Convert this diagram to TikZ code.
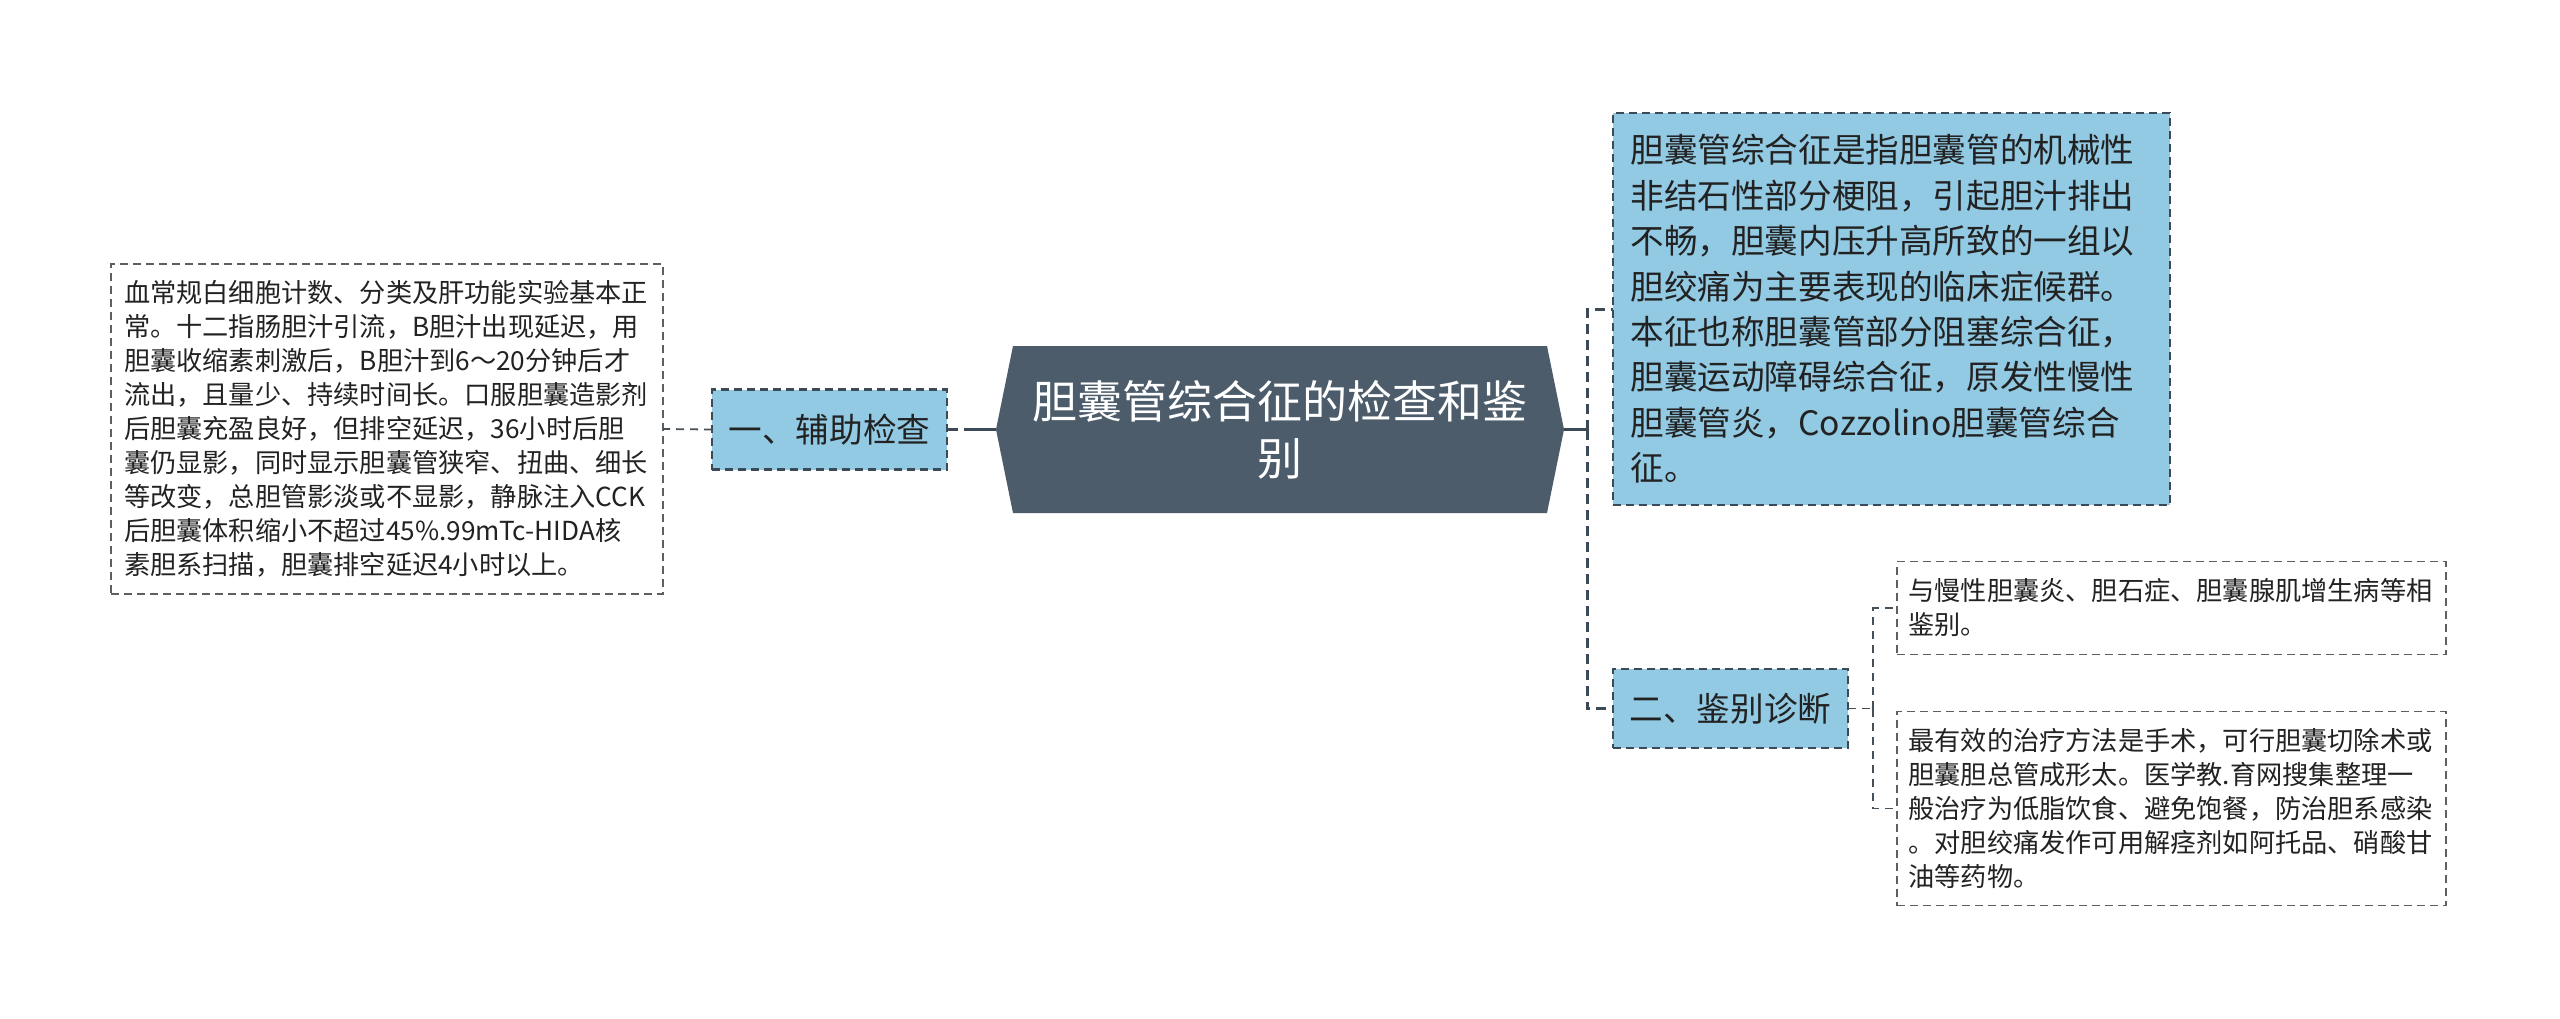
\documentclass[tikz,border=0pt]{standalone}
\usepackage{fontspec}
\newfontfamily\cjk{Noto Sans CJK SC}
\usetikzlibrary{calc}
\definecolor{bluefill}{RGB}{146,201,227}
\definecolor{slate}{RGB}{76,92,107}
\definecolor{edgec}{RGB}{60,74,88}
\definecolor{txt}{RGB}{34,34,34}
\definecolor{leafline}{RGB}{95,95,95}
\definecolor{twigc}{RGB}{70,80,90}
\begin{document}
\begin{tikzpicture}[x=0.5pt,y=-0.5pt,
  every node/.style={inner sep=0pt,outer sep=0pt},
  bluebox/.style={draw=edgec,fill=bluefill,line width=1.2pt,dash pattern=on 4pt off 2.5pt,text=txt},
  leafbox/.style={draw=leafline,line width=0.8pt,dash pattern=on 4pt off 2.5pt,text=txt},
  smalltext/.style={font=\cjk\fontsize{13.1}{17}\selectfont,align=left},
  midtext/.style={font=\cjk\fontsize{16.8}{22.7}\selectfont},
  trunk/.style={draw=edgec,line width=1.5pt,dash pattern=on 5pt off 3pt},
  twig/.style={draw=twigc,line width=0.9pt,dash pattern=on 4pt off 3pt},
  solidc/.style={draw=edgec,line width=1.6pt}]
\useasboundingbox[fill=white] (0,0) rectangle (2560,1018);

% central node
\node[minimum width=284pt,minimum height=83.5pt] (c) at (1280,429.5) {};
\fill[slate] ($(c.north west)+(17,0)$) -- ($(c.north east)+(-17,0)$) -- (c.east)
  -- ($(c.south east)+(-17,0)$) -- ($(c.south west)+(17,0)$) -- (c.west) -- cycle;
\node[text width=250pt,align=center,font=\cjk\fontsize{22.5}{28.5}\selectfont,text=white]
  at (c.center) {胆囊管综合征的检查和鉴\\别};

% left branch
\node[bluebox,midtext,minimum width=117.5pt,minimum height=40pt] (l1) at (829.5,429.5) {一、辅助检查};
\node[leafbox,smalltext,minimum width=276pt,minimum height=165pt,text width=263pt] (leaf) at (387,429) {%
血常规白细胞计数、分类及肝功能实验基本正\\
常。十二指肠胆汁引流，B胆汁出现延迟，用\\
胆囊收缩素刺激后，B胆汁到6～20分钟后才\\
流出，且量少、持续时间长。口服胆囊造影剂\\
后胆囊充盈良好，但排空延迟，36小时后胆\\
囊仍显影，同时显示胆囊管狭窄、扭曲、细长\\
等改变，总胆管影淡或不显影，静脉注入CCK\\
后胆囊体积缩小不超过45\%.99mTc-HIDA核\\
素胆系扫描，胆囊排空延迟4小时以上。};

% right branch
\node[bluebox,midtext,align=left,minimum width=278.5pt,minimum height=196pt,text width=261pt] (rt) at (1891.5,309) {%
胆囊管综合征是指胆囊管的机械性\\
非结石性部分梗阻，引起胆汁排出\\
不畅，胆囊内压升高所致的一组以\\
胆绞痛为主要表现的临床症候群。\\
本征也称胆囊管部分阻塞综合征，\\
胆囊运动障碍综合征，原发性慢性\\
胆囊管炎，Cozzolino胆囊管综合\\
征。};
\node[bluebox,midtext,minimum width=117.5pt,minimum height=39.5pt] (r2) at (1730.5,708.5) {二、鉴别诊断};
\node[leafbox,smalltext,minimum width=274.5pt,minimum height=46.5pt,text width=263pt] (leafa) at (2171.5,608) {%
与慢性胆囊炎、胆石症、胆囊腺肌增生病等相\\
鉴别。};
\node[leafbox,smalltext,minimum width=274.5pt,minimum height=97pt,text width=263pt] (leafb) at (2171.5,808.5) {%
最有效的治疗方法是手术，可行胆囊切除术或\\
胆囊胆总管成形太。医学教.育网搜集整理一\\
般治疗为低脂饮食、避免饱餐，防治胆系感染\\
。对胆绞痛发作可用解痉剂如阿托品、硝酸甘\\
油等药物。};

% connectors
\draw[solidc,dash pattern=on 16pt off 3pt on 5pt off 10pt] (c.west) -- (l1.east);
\draw[twig] (l1.west) -- (leaf.east);
\coordinate (jr) at (1587,429.5);
\draw[solidc] (c.east) -- (jr);
\draw[trunk] (jr) |- (rt.west);
\draw[trunk] (jr) |- (r2.west);
\coordinate (jr2) at (1873,708.5);
\draw[twig] (r2.east) -- (jr2);
\draw[twig] (jr2) |- (leafa.west);
\draw[twig] (jr2) |- (leafb.west);
\end{tikzpicture}
\end{document}
